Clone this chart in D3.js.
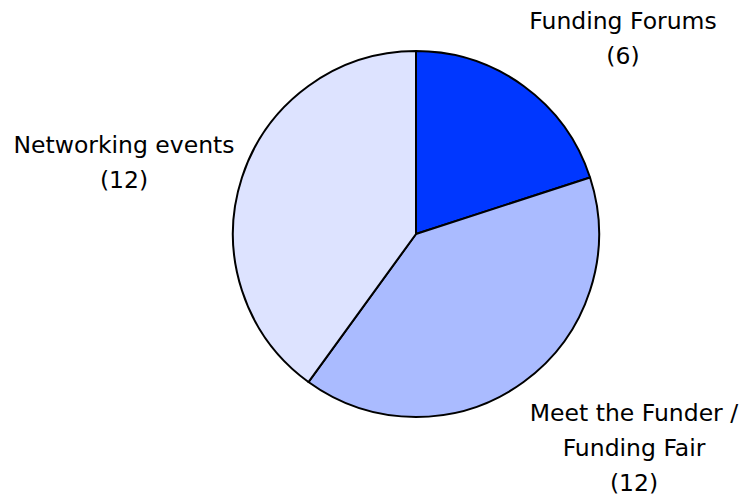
<!DOCTYPE html>
<html><head><meta charset="utf-8">
<script src="https://cdn.jsdelivr.net/npm/d3@7"></script>
<style>body{margin:0;background:#fff}svg{display:block}</style>
</head><body>
<script>
const categories = ["Funding Forums", "Meet the Funder / Funding Fair", "Networking events"];
const values = [6, 12, 12];
const labelLines = [["Funding Forums", "(6)"], ["Meet the Funder /", "Funding Fair", "(12)"], ["Networking events", "(12)"]];
const colors = ["#0037FF", "#AABBFF", "#DDE3FF"];

const W = 750, H = 499, cx = 416, cy = 234, R = 183;
const svg = d3.select("body").append("svg").attr("width", W).attr("height", H);
const pie = d3.pie().sort(null).value(d => d)(values);
const arc = d3.arc().innerRadius(0).outerRadius(R);
const g = svg.append("g").attr("transform", `translate(${cx},${cy})`);
g.selectAll("path").data(pie).join("path")
  .attr("d", arc)
  .attr("fill", (d, i) => colors[i])
  .attr("stroke", "#000").attr("stroke-width", 2).attr("stroke-linejoin", "round");

const labelPos = [[623, 29], [634, 421], [124, 153]];
const lh = 35;
labelLines.forEach((lines, i) => {
  const t = svg.append("text").attr("text-anchor", "middle")
    .attr("font-family", "'DejaVu Sans', sans-serif")
    .attr("font-size", 23.5).attr("fill", "#000");
  lines.forEach((s, j) => {
    t.append("tspan").attr("x", labelPos[i][0]).attr("y", labelPos[i][1] + j * lh).text(s);
  });
});
</script>
</body></html>
